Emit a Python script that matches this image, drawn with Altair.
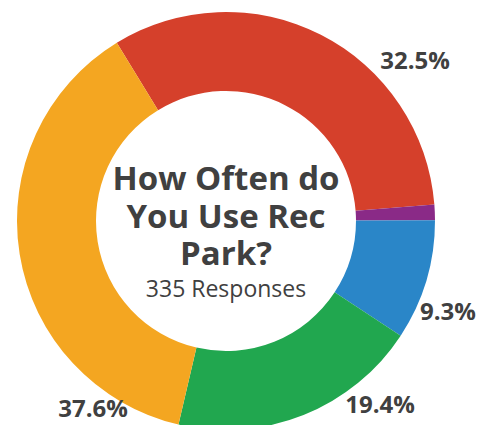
import math
import altair as alt
import pandas as pd

# Data
categories = ["Weekly", "Daily", "Monthly", "A Few Times a Year", "Rarely"]
values = [32.5, 1.2, 9.3, 19.4, 37.6]
colors = ["#D5402B", "#8A2A87", "#2A86C8", "#21A74F", "#F4A621"]
title_lines = ["How Often do", "You Use Rec", "Park?"]
subtitle = "335 Responses"
labelled = [0, 2, 3, 4]  # which slices carry a percent label

df = pd.DataFrame({"category": categories, "value": values, "order": list(range(len(values)))})
one = pd.DataFrame({"k": [0]})

start = math.radians(-31.5)
TEXT = "#404040"
FONT = "Open Sans"
CX, CY = 218, 213

arcs = alt.Chart(df).mark_arc(outerRadius=209, innerRadius=130).encode(
    x=alt.value(CX), y=alt.value(CY),
    theta=alt.Theta("value:Q", stack=True, scale=alt.Scale(range=[start, start + 2 * math.pi])),
    order=alt.Order("order:Q"),
    color=alt.Color("category:N", scale=alt.Scale(domain=categories, range=colors), legend=None),
)

title_layers = []
for j, line in enumerate(title_lines):
    title_layers.append(
        alt.Chart(one).mark_text(
            font=FONT, fontSize=33, fontWeight="bold", color=TEXT, align="center",
            baseline="alphabetic",
        ).encode(x=alt.value(CX), y=alt.value(182 + 37.5 * j), text=alt.value(line))
    )

sub = alt.Chart(one).mark_text(
    font=FONT, fontSize=23, color=TEXT, align="center", baseline="alphabetic",
).encode(x=alt.value(CX), y=alt.value(289), text=alt.value(subtitle))

label_pos = [(407, 61), (440, 312), (372, 405), (85, 409)]
label_layers = []
for i, (lx, ly) in zip(labelled, label_pos):
    label_layers.append(
        alt.Chart(one).mark_text(
            font=FONT, fontSize=24, fontWeight="bold", color=TEXT, align="center",
            baseline="alphabetic",
        ).encode(x=alt.value(lx), y=alt.value(ly), text=alt.value(f"{values[i]}%"))
    )

chart = alt.layer(arcs, *title_layers, sub, *label_layers).properties(
    width=436, height=417,
    padding={"left": 0, "top": 0, "right": 32, "bottom": 0},
    autosize=alt.AutoSizeParams(type="none"),
).configure_view(stroke="transparent", strokeWidth=0)

chart.save("out.html", embed_options={"renderer": "svg", "actions": False})
